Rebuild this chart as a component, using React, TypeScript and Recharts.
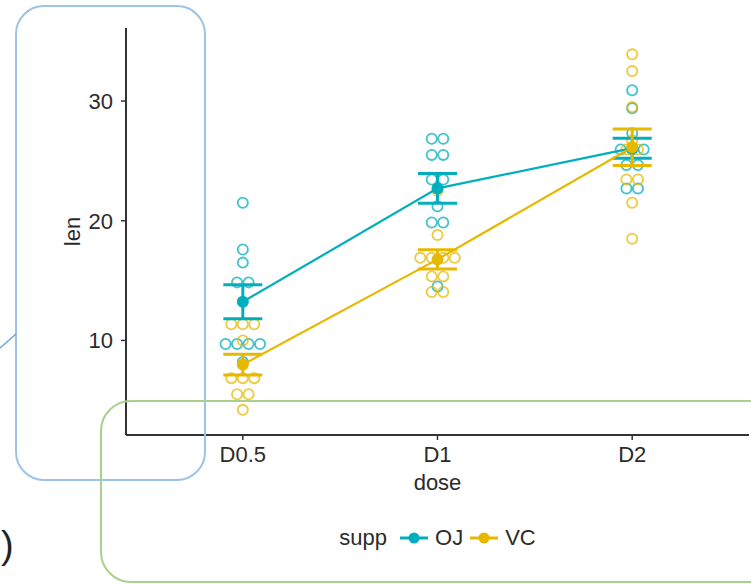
import React from 'react';
import { ComposedChart, Line, Scatter, XAxis, YAxis, ErrorBar, Legend } from 'recharts';

// ---- data ----
const categories = ['D0.5', 'D1', 'D2'];
const doseX = [1, 2, 3];
const supps = ['OJ', 'VC'];
const suppColors = ['#00AFBB', '#E7B800'];

// individual observations (len) per dose
const ojD05 = [15.2, 21.5, 17.6, 9.7, 14.5, 10, 8.2, 9.4, 16.5, 9.7];
const ojD1 = [19.7, 23.3, 23.6, 26.4, 20, 25.2, 25.8, 21.2, 14.5, 27.3];
const ojD2 = [25.5, 26.4, 22.4, 24.5, 24.8, 30.9, 26.4, 27.3, 29.4, 23];
const vcD05 = [4.2, 11.5, 7.3, 5.8, 6.4, 10, 11.2, 11.2, 5.2, 7];
const vcD1 = [16.5, 16.5, 15.2, 17.3, 22.5, 17.3, 13.6, 14.5, 18.8, 15.5];
const vcD2 = [23.6, 18.5, 33.9, 25.5, 26.4, 32.5, 26.7, 21.5, 23.3, 29.5];

// mean and standard error per dose
const ojMean = [13.23, 22.7, 26.06];
const ojSe = [1.42, 1.24, 0.84];
const vcMean = [7.98, 16.77, 26.14];
const vcSe = [0.87, 0.8, 1.52];

const yTicks = [10, 20, 30];
const legendTitle = 'supp';
const xTitle = 'dose';
const yTitle = 'len';

// ---- helpers ----
const BINWIDTH = 0.99; // dotplot bin width (data units)
const DOT_STEP = 11.5; // px between stacked dots
const FONT = '"Liberation Sans", Arial, Helvetica, sans-serif';
const TEXT = '#2b2b2b';
const FS = 22;

function dotdensity(values: number[], x: number) {
  const s = [...values].sort((a, b) => a - b);
  const out: { x: number; y: number; k: number }[] = [];
  let i = 0;
  while (i < s.length) {
    const start = s[i];
    let j = i;
    while (j < s.length && s[j] < start + BINWIDTH) j++;
    const bin = s.slice(i, j);
    const center = (bin[0] + bin[bin.length - 1]) / 2;
    bin.forEach((_, k) => out.push({ x, y: center, k: k - (bin.length - 1) / 2 }));
    i = j;
  }
  return out;
}

const ojDots = [
  ...dotdensity(ojD05, doseX[0]),
  ...dotdensity(ojD1, doseX[1]),
  ...dotdensity(ojD2, doseX[2]),
];
const vcDots = [
  ...dotdensity(vcD05, doseX[0]),
  ...dotdensity(vcD1, doseX[1]),
  ...dotdensity(vcD2, doseX[2]),
];

const ojLine = doseX.map((x, i) => ({ x, y: ojMean[i], err: ojSe[i] }));
const vcLine = doseX.map((x, i) => ({ x, y: vcMean[i], err: vcSe[i] }));

const makeDot = (color: string) => (props: any) => {
  const { cx, cy, payload } = props;
  if (cx == null || cy == null) return <g />;
  return (
    <circle
      cx={cx + payload.k * DOT_STEP}
      cy={cy}
      r={5.1}
      fill="none"
      stroke={color}
      strokeWidth={1.8}
      strokeOpacity={0.75}
    />
  );
};

const LegendContent = () => (
  <div
    style={{
      display: 'flex',
      justifyContent: 'center',
      alignItems: 'center',
      height: 30,
      fontFamily: FONT,
      fontSize: FS,
      color: TEXT,
    }}
  >
    <span style={{ marginRight: 13 }}>{legendTitle}</span>
    {supps.map((s, i) => (
      <span key={s} style={{ display: 'flex', alignItems: 'center', marginRight: i < supps.length - 1 ? 7 : 0 }}>
        <svg width={28} height={14} style={{ marginRight: 7 }}>
          <line x1={0} y1={7} x2={28} y2={7} stroke={suppColors[i]} strokeWidth={3} />
          <circle cx={14} cy={7} r={5.5} fill={suppColors[i]} />
        </svg>
        <span>{s}</span>
      </span>
    ))}
  </div>
);

const axisStyle = { stroke: '#333', strokeWidth: 2 };
const tickStyle = { fill: TEXT, fontSize: FS, fontFamily: FONT };

export default function App() {
  return (
    <div style={{ position: 'absolute', left: 0, top: 0, width: 751, height: 584, overflow: 'hidden', background: '#fff', fontFamily: FONT }}>
      <ComposedChart width={751} height={584} margin={{ top: 28, right: 2, bottom: 32, left: 0 }}>
        <XAxis
          type="number"
          dataKey="x"
          domain={[0.4, 3.6]}
          allowDataOverflow
          ticks={doseX}
          tickFormatter={(v: number) => categories[doseX.indexOf(v)] ?? ''}
          height={87}
          tickSize={5}
          tickMargin={6}
          tick={tickStyle}
          axisLine={axisStyle}
          tickLine={{ stroke: '#333', strokeWidth: 1.5 }}
          label={{ value: xTitle, position: 'insideTop', offset: 39, fill: TEXT, fontSize: FS, fontFamily: FONT }}
        />
        <YAxis
          type="number"
          dataKey="y"
          domain={[2.1, 36.1]}
          allowDataOverflow
          ticks={yTicks}
          width={126}
          tickSize={5}
          tickMargin={8}
          tick={tickStyle}
          axisLine={axisStyle}
          tickLine={{ stroke: '#333', strokeWidth: 1.5 }}
          label={{
            content: (p: any) => {
              const vb = p.viewBox || { x: 0, y: 28, width: 126, height: 407 };
              const cx = vb.x + 72;
              const cy = vb.y + vb.height / 2;
              return (
                <text
                  x={cx}
                  y={cy}
                  transform={`rotate(-90, ${cx}, ${cy})`}
                  textAnchor="middle"
                  dominantBaseline="central"
                  fill={TEXT}
                  fontSize={FS}
                  fontFamily={FONT}
                >
                  {yTitle}
                </text>
              );
            },
          }}
        />
        <Legend
          verticalAlign="bottom"
          content={() => <LegendContent />}
          wrapperStyle={{ position: 'absolute', left: 126, top: 523, width: 623, height: 30 }}
        />
        <Scatter name="OJ dots" data={ojDots} dataKey="y" shape={makeDot(suppColors[0])} isAnimationActive={false} zIndex={300} legendType="none" />
        <Scatter name="VC dots" data={vcDots} dataKey="y" shape={makeDot(suppColors[1])} isAnimationActive={false} zIndex={300} legendType="none" />
        <Line
          name={supps[0]}
          data={ojLine}
          dataKey="y"
          stroke={suppColors[0]}
          strokeWidth={2.2}
          dot={{ r: 6, fill: suppColors[0], stroke: suppColors[0], strokeWidth: 0 }}
          activeDot={false}
          isAnimationActive={false}
        >
          <ErrorBar dataKey="err" direction="y" width={19.5} strokeWidth={3} stroke={suppColors[0]} />
        </Line>
        <Line
          name={supps[1]}
          data={vcLine}
          dataKey="y"
          stroke={suppColors[1]}
          strokeWidth={2.2}
          dot={{ r: 6, fill: suppColors[1], stroke: suppColors[1], strokeWidth: 0 }}
          activeDot={false}
          isAnimationActive={false}
        >
          <ErrorBar dataKey="err" direction="y" width={19.5} strokeWidth={3} stroke={suppColors[1]} />
        </Line>
      </ComposedChart>
      <svg
        width={751}
        height={584}
        style={{ position: 'absolute', left: 0, top: 0, pointerEvents: 'none' }}
      >
        <rect x={16} y={6} width={189} height={474} rx={28} ry={28} fill="none" stroke="#9DC3E6" strokeWidth={2} />
        <line x1={0} y1={348} x2={16} y2={334} stroke="#5B9BD5" strokeWidth={1.2} />
        <rect x={101} y={401} width={700} height={181} rx={30} ry={30} fill="none" stroke="#A9D18E" strokeWidth={2} />
        <text x={1} y={558} fontSize={38} fontFamily={FONT} fill="#222">)</text>
      </svg>
    </div>
  );
}
